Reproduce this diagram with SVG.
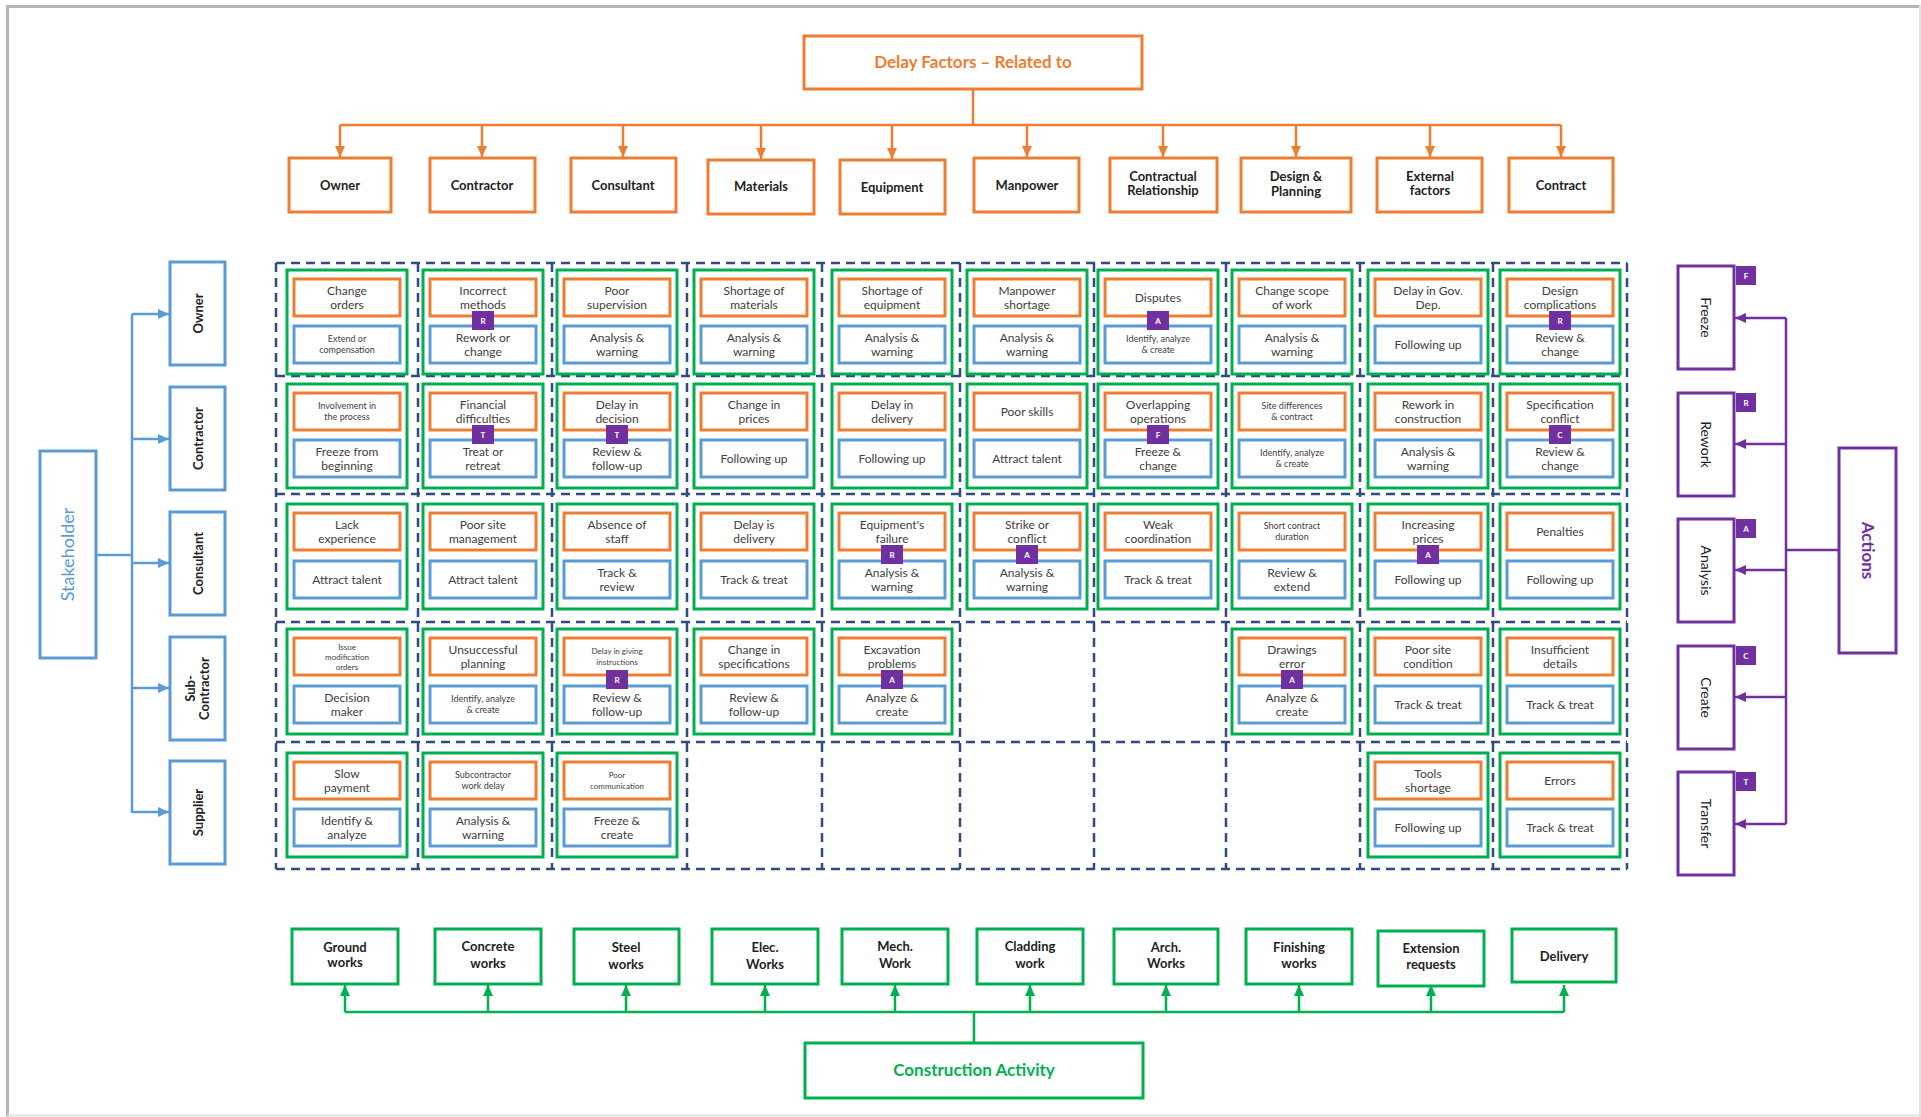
<svg xmlns="http://www.w3.org/2000/svg" width="1921" height="1117" viewBox="0 0 1921 1117">
<style>
text{font-family:Lato,"Liberation Sans",Arial,sans-serif;text-anchor:middle}
.t{font-size:12px;fill:#404040}
.s{font-size:9px}
.xs{font-size:8px}
.g{fill:#fff;stroke:#00B050;stroke-width:3}
.o{fill:#fff;stroke:#ED7D31;stroke-width:3}
.b{fill:#fff;stroke:#5B9BD5;stroke-width:3}
.p{fill:#7030A0}
.pl{font-size:8px;fill:#fff;font-weight:bold}
.grid{fill:none;stroke:#2F4B80;stroke-width:2.5;stroke-dasharray:9 6}
.ob{fill:#fff;stroke:#ED7D31;stroke-width:3}
.gb{fill:#fff;stroke:#00B050;stroke-width:3}
.bb{fill:#fff;stroke:#5B9BD5;stroke-width:3}
.pb{fill:#fff;stroke:#7030A0;stroke-width:3}
.lbl{font-size:13px;font-weight:bold;fill:#222}
.act{font-size:14px;fill:#222}
.co{fill:none;stroke:#ED7D31;stroke-width:2.5}
.cg{fill:none;stroke:#00B050;stroke-width:2.5}
.cb{fill:none;stroke:#5B9BD5;stroke-width:2.5}
.cp{fill:none;stroke:#7030A0;stroke-width:2.5}
</style>
<defs>
<marker id="ao" markerUnits="userSpaceOnUse" markerWidth="12" markerHeight="12" refX="11" refY="6" orient="auto"><path d="M0,1 L11,6 L0,11 z" fill="#ED7D31"/></marker>
<marker id="ag" markerUnits="userSpaceOnUse" markerWidth="12" markerHeight="12" refX="11" refY="6" orient="auto"><path d="M0,1 L11,6 L0,11 z" fill="#00B050"/></marker>
<marker id="ab" markerUnits="userSpaceOnUse" markerWidth="12" markerHeight="12" refX="11" refY="6" orient="auto"><path d="M0,1 L11,6 L0,11 z" fill="#5B9BD5"/></marker>
<marker id="ap" markerUnits="userSpaceOnUse" markerWidth="12" markerHeight="12" refX="11" refY="6" orient="auto"><path d="M0,1 L11,6 L0,11 z" fill="#7030A0"/></marker>
</defs>
<rect width="1921" height="1117" fill="#fff"/>
<path d="M7,6.5 H1921 M7.5,5 V1117" stroke="#b5b5b5" stroke-width="3" fill="none"/>
<path d="M7,1115.5 H1921 M1920,5 V1117" stroke="#e2e2e2" stroke-width="2" fill="none"/>

<!-- grid -->
<g id="grid" class="grid">
<path d="M276,263 H1627 M276,376 H1627 M276,494 H1627 M276,622 H1627 M276,742 H1627 M276,869 H1627"/>
<path d="M276,263 V869 M418,263 V869 M552,263 V869 M687,263 V869 M822,263 V869 M960,263 V869 M1094,263 V869 M1226,263 V869 M1360,263 V869 M1493,263 V869 M1627,263 V869"/>
</g>

<!-- connectors -->
<g id="connectors">
<path class="co" d="M973,89 V125 M340,125 H1561"/>
<path class="co" marker-end="url(#ao)" d="M340,125 V157"/>
<path class="co" marker-end="url(#ao)" d="M482,125 V157"/>
<path class="co" marker-end="url(#ao)" d="M623,125 V157"/>
<path class="co" marker-end="url(#ao)" d="M761,125 V159"/>
<path class="co" marker-end="url(#ao)" d="M892,125 V159"/>
<path class="co" marker-end="url(#ao)" d="M1027,125 V157"/>
<path class="co" marker-end="url(#ao)" d="M1163,125 V157"/>
<path class="co" marker-end="url(#ao)" d="M1296,125 V157"/>
<path class="co" marker-end="url(#ao)" d="M1430,125 V157"/>
<path class="co" marker-end="url(#ao)" d="M1561,125 V157"/>

<path class="cb" d="M96,555 H132 M132,314 V813"/>
<path class="cb" marker-end="url(#ab)" d="M132,314 H169"/>
<path class="cb" marker-end="url(#ab)" d="M132,439 H169"/>
<path class="cb" marker-end="url(#ab)" d="M132,563 H169"/>
<path class="cb" marker-end="url(#ab)" d="M132,688 H169"/>
<path class="cb" marker-end="url(#ab)" d="M132,812 H169"/>

<path class="cp" d="M1839,550 H1786 M1786,318 V824"/>
<path class="cp" marker-end="url(#ap)" d="M1786,318 H1735"/>
<path class="cp" marker-end="url(#ap)" d="M1786,444 H1735"/>
<path class="cp" marker-end="url(#ap)" d="M1786,570 H1735"/>
<path class="cp" marker-end="url(#ap)" d="M1786,697 H1735"/>
<path class="cp" marker-end="url(#ap)" d="M1786,824 H1735"/>

<path class="cg" d="M974,1043 V1012 M345,1012 H1564"/>
<path class="cg" marker-end="url(#ag)" d="M345,1012 V985"/>
<path class="cg" marker-end="url(#ag)" d="M488,1012 V985"/>
<path class="cg" marker-end="url(#ag)" d="M626,1012 V985"/>
<path class="cg" marker-end="url(#ag)" d="M765,1012 V985"/>
<path class="cg" marker-end="url(#ag)" d="M895,1012 V985"/>
<path class="cg" marker-end="url(#ag)" d="M1030,1012 V985"/>
<path class="cg" marker-end="url(#ag)" d="M1166,1012 V985"/>
<path class="cg" marker-end="url(#ag)" d="M1299,1012 V985"/>
<path class="cg" marker-end="url(#ag)" d="M1431,1012 V985"/>
<path class="cg" marker-end="url(#ag)" d="M1564,1012 V985"/>
</g>

<!-- top -->
<g id="delay-factors"><rect class="ob" x="804" y="36" width="338" height="53"/><text x="973" y="68" font-size="17" font-weight="bold" fill="#ED7D31">Delay Factors – Related to</text></g>
<g id="cat-owner"><rect class="ob" x="289" y="158" width="102" height="54"/><text class="lbl" x="340" y="190" font-size="15">Owner</text></g>
<g id="cat-contractor"><rect class="ob" x="430" y="158" width="105" height="54"/><text class="lbl" x="482" y="189.5">Contractor</text></g>
<g id="cat-consultant"><rect class="ob" x="571" y="158" width="105" height="54"/><text class="lbl" x="623" y="189.5">Consultant</text></g>
<g id="cat-materials"><rect class="ob" x="708" y="160" width="106" height="54"/><text class="lbl" x="761" y="191">Materials</text></g>
<g id="cat-equipment"><rect class="ob" x="840" y="160" width="105" height="54"/><text class="lbl" x="892" y="192">Equipment</text></g>
<g id="cat-manpower"><rect class="ob" x="974" y="158" width="105" height="54"/><text class="lbl" x="1027" y="190">Manpower</text></g>
<g id="cat-contractual"><rect class="ob" x="1110" y="158" width="107" height="54"/><text class="lbl" y="181" font-size="11"><tspan x="1163">Contractual</tspan><tspan x="1163" dy="14">Relationship</tspan></text></g>
<g id="cat-design"><rect class="ob" x="1241" y="158" width="110" height="54"/><text class="lbl" y="181"><tspan x="1296">Design &amp;</tspan><tspan x="1296" dy="15">Planning</tspan></text></g>
<g id="cat-external"><rect class="ob" x="1377" y="158" width="105" height="54"/><text class="lbl" y="181" font-size="11"><tspan x="1430">External</tspan><tspan x="1430" dy="14">factors</tspan></text></g>
<g id="cat-contract"><rect class="ob" x="1509" y="158" width="104" height="54"/><text class="lbl" x="1561" y="189.5">Contract</text></g>

<!-- left stakeholders -->
<g id="stakeholder"><rect class="bb" x="40" y="451" width="56" height="207"/><text transform="translate(68,554.5) rotate(-90)" y="6" font-size="18" fill="#5B9BD5">Stakeholder</text></g>
<g id="sh-owner"><rect class="bb" x="170" y="262" width="55" height="103"/><text class="lbl" transform="translate(197.5,313.5) rotate(-90)" y="5">Owner</text></g>
<g id="sh-contractor"><rect class="bb" x="170" y="387" width="55" height="103"/><text class="lbl" transform="translate(197.5,438.5) rotate(-90)" y="5">Contractor</text></g>
<g id="sh-consultant"><rect class="bb" x="170" y="512" width="55" height="103"/><text class="lbl" transform="translate(197.5,563.5) rotate(-90)" y="5">Consultant</text></g>
<g id="sh-subcontractor"><rect class="bb" x="170" y="637" width="55" height="103"/><text class="lbl" transform="translate(197.5,688.5) rotate(-90)" font-size="12" y="-3"><tspan x="0">Sub-</tspan><tspan x="0" dy="14">Contractor</tspan></text></g>
<g id="sh-supplier"><rect class="bb" x="170" y="761" width="55" height="103"/><text class="lbl" transform="translate(197.5,812.5) rotate(-90)" y="5">Supplier</text></g>

<!-- right actions -->
<g id="actions"><rect class="pb" x="1839" y="448" width="57" height="205"/><text transform="translate(1867.5,550.5) rotate(90)" y="6" font-size="17" font-weight="bold" fill="#7030A0">Actions</text></g>
<g id="act-freeze"><rect class="pb" x="1678" y="266" width="56" height="103"/><rect class="p" x="1736" y="266" width="20" height="19"/><text class="pl" x="1746" y="278.5">F</text><text class="act" transform="translate(1706,317.5) rotate(90)" y="5">Freeze</text></g>
<g id="act-rework"><rect class="pb" x="1678" y="393" width="56" height="103"/><rect class="p" x="1736" y="393" width="20" height="19"/><text class="pl" x="1746" y="405.5">R</text><text class="act" transform="translate(1706,444.5) rotate(90)" y="5">Rework</text></g>
<g id="act-analysis"><rect class="pb" x="1678" y="519" width="56" height="103"/><rect class="p" x="1736" y="519" width="20" height="19"/><text class="pl" x="1746" y="531.5">A</text><text class="act" transform="translate(1706,570.5) rotate(90)" y="5">Analysis</text></g>
<g id="act-create"><rect class="pb" x="1678" y="646" width="56" height="103"/><rect class="p" x="1736" y="646" width="20" height="19"/><text class="pl" x="1746" y="658.5">C</text><text class="act" transform="translate(1706,697.5) rotate(90)" y="5">Create</text></g>
<g id="act-transfer"><rect class="pb" x="1678" y="772" width="56" height="103"/><rect class="p" x="1736" y="772" width="20" height="19"/><text class="pl" x="1746" y="784.5">T</text><text class="act" transform="translate(1706,823.5) rotate(90)" y="5">Transfer</text></g>

<!-- bottom activities -->
<g id="construction-activity"><rect class="gb" x="805" y="1043" width="338" height="55"/><text x="974" y="1076" font-size="17" font-weight="bold" fill="#00B050">Construction Activity</text></g>
<g id="ca-ground"><rect class="gb" x="292" y="929" width="106" height="55"/><text class="lbl" y="952" font-size="12"><tspan x="345">Ground</tspan><tspan x="345" dy="15">works</tspan></text></g>
<g id="ca-concrete"><rect class="gb" x="435" y="929" width="106" height="55"/><text class="lbl" y="951" font-size="12"><tspan x="488">Concrete</tspan><tspan x="488" dy="17">works</tspan></text></g>
<g id="ca-steel"><rect class="gb" x="574" y="929" width="105" height="55"/><text class="lbl" y="952" font-size="14"><tspan x="626">Steel</tspan><tspan x="626" dy="17">works</tspan></text></g>
<g id="ca-elec"><rect class="gb" x="712" y="929" width="106" height="55"/><text class="lbl" y="952" font-size="14"><tspan x="765">Elec.</tspan><tspan x="765" dy="17">Works</tspan></text></g>
<g id="ca-mech"><rect class="gb" x="842" y="929" width="106" height="55"/><text class="lbl" y="951" font-size="12"><tspan x="895">Mech.</tspan><tspan x="895" dy="17">Work</tspan></text></g>
<g id="ca-cladding"><rect class="gb" x="977" y="929" width="106" height="55"/><text class="lbl" y="951" font-size="12"><tspan x="1030">Cladding</tspan><tspan x="1030" dy="17">work</tspan></text></g>
<g id="ca-arch"><rect class="gb" x="1114" y="929" width="104" height="55"/><text class="lbl" y="952" font-size="12"><tspan x="1166">Arch.</tspan><tspan x="1166" dy="16">Works</tspan></text></g>
<g id="ca-finishing"><rect class="gb" x="1246" y="929" width="106" height="55"/><text class="lbl" y="952" font-size="12"><tspan x="1299">Finishing</tspan><tspan x="1299" dy="16">works</tspan></text></g>
<g id="ca-extension"><rect class="gb" x="1378" y="931" width="106" height="55"/><text class="lbl" y="953" font-size="12"><tspan x="1431">Extension</tspan><tspan x="1431" dy="16">requests</tspan></text></g>
<g id="ca-delivery"><rect class="gb" x="1512" y="929" width="104" height="53"/><text class="lbl" x="1564" y="961" font-size="12">Delivery</text></g>

<!-- cells row 1 -->
<g id="r1c1" transform="translate(287,270)"><rect class="g" width="120" height="104"/><rect class="o" x="7" y="9" width="106" height="37"/><rect class="b" x="7" y="56" width="106" height="37"/><text class="t" y="24.8"><tspan x="60">Change</tspan><tspan x="60" dy="14">orders</tspan></text><text class="t s" y="72.2"><tspan x="60">Extend or</tspan><tspan x="60" dy="11">compensation</tspan></text></g>
<g id="r1c2" transform="translate(423,270)"><rect class="g" width="120" height="104"/><rect class="o" x="7" y="9" width="106" height="37"/><rect class="b" x="7" y="56" width="106" height="37"/><text class="t" y="24.8"><tspan x="60">Incorrect</tspan><tspan x="60" dy="14">methods</tspan></text><text class="t" y="71.8"><tspan x="60">Rework or</tspan><tspan x="60" dy="14">change</tspan></text><rect class="p" x="49" y="41" width="22" height="19"/><text class="pl" x="60" y="53.5">R</text></g>
<g id="r1c3" transform="translate(557,270)"><rect class="g" width="120" height="104"/><rect class="o" x="7" y="9" width="106" height="37"/><rect class="b" x="7" y="56" width="106" height="37"/><text class="t" y="24.8"><tspan x="60">Poor</tspan><tspan x="60" dy="14">supervision</tspan></text><text class="t" y="71.8"><tspan x="60">Analysis &amp;</tspan><tspan x="60" dy="14">warning</tspan></text></g>
<g id="r1c4" transform="translate(694,270)"><rect class="g" width="120" height="104"/><rect class="o" x="7" y="9" width="106" height="37"/><rect class="b" x="7" y="56" width="106" height="37"/><text class="t" y="24.8"><tspan x="60">Shortage of</tspan><tspan x="60" dy="14">materials</tspan></text><text class="t" y="71.8"><tspan x="60">Analysis &amp;</tspan><tspan x="60" dy="14">warning</tspan></text></g>
<g id="r1c5" transform="translate(832,270)"><rect class="g" width="120" height="104"/><rect class="o" x="7" y="9" width="106" height="37"/><rect class="b" x="7" y="56" width="106" height="37"/><text class="t" y="24.8"><tspan x="60">Shortage of</tspan><tspan x="60" dy="14">equipment</tspan></text><text class="t" y="71.8"><tspan x="60">Analysis &amp;</tspan><tspan x="60" dy="14">warning</tspan></text></g>
<g id="r1c6" transform="translate(967,270)"><rect class="g" width="120" height="104"/><rect class="o" x="7" y="9" width="106" height="37"/><rect class="b" x="7" y="56" width="106" height="37"/><text class="t" y="24.8"><tspan x="60">Manpower</tspan><tspan x="60" dy="14">shortage</tspan></text><text class="t" y="71.8"><tspan x="60">Analysis &amp;</tspan><tspan x="60" dy="14">warning</tspan></text></g>
<g id="r1c7" transform="translate(1098,270)"><rect class="g" width="120" height="104"/><rect class="o" x="7" y="9" width="106" height="37"/><rect class="b" x="7" y="56" width="106" height="37"/><text class="t" x="60" y="31.8">Disputes</text><text class="t s" y="72.2"><tspan x="60">Identify, analyze</tspan><tspan x="60" dy="11">&amp; create</tspan></text><rect class="p" x="49" y="41" width="22" height="19"/><text class="pl" x="60" y="53.5">A</text></g>
<g id="r1c8" transform="translate(1232,270)"><rect class="g" width="120" height="104"/><rect class="o" x="7" y="9" width="106" height="37"/><rect class="b" x="7" y="56" width="106" height="37"/><text class="t" y="24.8"><tspan x="60">Change scope</tspan><tspan x="60" dy="14">of work</tspan></text><text class="t" y="71.8"><tspan x="60">Analysis &amp;</tspan><tspan x="60" dy="14">warning</tspan></text></g>
<g id="r1c9" transform="translate(1368,270)"><rect class="g" width="120" height="104"/><rect class="o" x="7" y="9" width="106" height="37"/><rect class="b" x="7" y="56" width="106" height="37"/><text class="t" y="24.8"><tspan x="60">Delay in Gov.</tspan><tspan x="60" dy="14">Dep.</tspan></text><text class="t" x="60" y="78.8">Following up</text></g>
<g id="r1c10" transform="translate(1500,270)"><rect class="g" width="120" height="104"/><rect class="o" x="7" y="9" width="106" height="37"/><rect class="b" x="7" y="56" width="106" height="37"/><text class="t" y="24.8"><tspan x="60">Design</tspan><tspan x="60" dy="14">complications</tspan></text><text class="t" y="71.8"><tspan x="60">Review &amp;</tspan><tspan x="60" dy="14">change</tspan></text><rect class="p" x="49" y="41" width="22" height="19"/><text class="pl" x="60" y="53.5">R</text></g>

<!-- row 2 -->
<g id="r2c1" transform="translate(287,384)"><rect class="g" width="120" height="104"/><rect class="o" x="7" y="9" width="106" height="37"/><rect class="b" x="7" y="56" width="106" height="37"/><text class="t s" y="25.2"><tspan x="60">Involvement in</tspan><tspan x="60" dy="11">the process</tspan></text><text class="t" y="71.8"><tspan x="60">Freeze from</tspan><tspan x="60" dy="14">beginning</tspan></text></g>
<g id="r2c2" transform="translate(423,384)"><rect class="g" width="120" height="104"/><rect class="o" x="7" y="9" width="106" height="37"/><rect class="b" x="7" y="56" width="106" height="37"/><text class="t" y="24.8"><tspan x="60">Financial</tspan><tspan x="60" dy="14">difficulties</tspan></text><text class="t" y="71.8"><tspan x="60">Treat or</tspan><tspan x="60" dy="14">retreat</tspan></text><rect class="p" x="49" y="41" width="22" height="19"/><text class="pl" x="60" y="53.5">T</text></g>
<g id="r2c3" transform="translate(557,384)"><rect class="g" width="120" height="104"/><rect class="o" x="7" y="9" width="106" height="37"/><rect class="b" x="7" y="56" width="106" height="37"/><text class="t" y="24.8"><tspan x="60">Delay in</tspan><tspan x="60" dy="14">decision</tspan></text><text class="t" y="71.8"><tspan x="60">Review &amp;</tspan><tspan x="60" dy="14">follow-up</tspan></text><rect class="p" x="49" y="41" width="22" height="19"/><text class="pl" x="60" y="53.5">T</text></g>
<g id="r2c4" transform="translate(694,384)"><rect class="g" width="120" height="104"/><rect class="o" x="7" y="9" width="106" height="37"/><rect class="b" x="7" y="56" width="106" height="37"/><text class="t" y="24.8"><tspan x="60">Change in</tspan><tspan x="60" dy="14">prices</tspan></text><text class="t" x="60" y="78.8">Following up</text></g>
<g id="r2c5" transform="translate(832,384)"><rect class="g" width="120" height="104"/><rect class="o" x="7" y="9" width="106" height="37"/><rect class="b" x="7" y="56" width="106" height="37"/><text class="t" y="24.8"><tspan x="60">Delay in</tspan><tspan x="60" dy="14">delivery</tspan></text><text class="t" x="60" y="78.8">Following up</text></g>
<g id="r2c6" transform="translate(967,384)"><rect class="g" width="120" height="104"/><rect class="o" x="7" y="9" width="106" height="37"/><rect class="b" x="7" y="56" width="106" height="37"/><text class="t" x="60" y="31.8">Poor skills</text><text class="t" x="60" y="78.8">Attract talent</text></g>
<g id="r2c7" transform="translate(1098,384)"><rect class="g" width="120" height="104"/><rect class="o" x="7" y="9" width="106" height="37"/><rect class="b" x="7" y="56" width="106" height="37"/><text class="t" y="24.8"><tspan x="60">Overlapping</tspan><tspan x="60" dy="14">operations</tspan></text><text class="t" y="71.8"><tspan x="60">Freeze &amp;</tspan><tspan x="60" dy="14">change</tspan></text><rect class="p" x="49" y="41" width="22" height="19"/><text class="pl" x="60" y="53.5">F</text></g>
<g id="r2c8" transform="translate(1232,384)"><rect class="g" width="120" height="104"/><rect class="o" x="7" y="9" width="106" height="37"/><rect class="b" x="7" y="56" width="106" height="37"/><text class="t s" y="25.2"><tspan x="60">Site differences</tspan><tspan x="60" dy="11">&amp; contract</tspan></text><text class="t s" y="72.2"><tspan x="60">Identify, analyze</tspan><tspan x="60" dy="11">&amp; create</tspan></text></g>
<g id="r2c9" transform="translate(1368,384)"><rect class="g" width="120" height="104"/><rect class="o" x="7" y="9" width="106" height="37"/><rect class="b" x="7" y="56" width="106" height="37"/><text class="t" y="24.8"><tspan x="60">Rework in</tspan><tspan x="60" dy="14">construction</tspan></text><text class="t" y="71.8"><tspan x="60">Analysis &amp;</tspan><tspan x="60" dy="14">warning</tspan></text></g>
<g id="r2c10" transform="translate(1500,384)"><rect class="g" width="120" height="104"/><rect class="o" x="7" y="9" width="106" height="37"/><rect class="b" x="7" y="56" width="106" height="37"/><text class="t" y="24.8"><tspan x="60">Specification</tspan><tspan x="60" dy="14">conflict</tspan></text><text class="t" y="71.8"><tspan x="60">Review &amp;</tspan><tspan x="60" dy="14">change</tspan></text><rect class="p" x="49" y="41" width="22" height="19"/><text class="pl" x="60" y="53.5">C</text></g>

<!-- row 3 -->
<g id="r3c1" transform="translate(287,504)"><rect class="g" width="120" height="105"/><rect class="o" x="7" y="9" width="106" height="37"/><rect class="b" x="7" y="57" width="106" height="37"/><text class="t" y="24.8"><tspan x="60">Lack</tspan><tspan x="60" dy="14">experience</tspan></text><text class="t" x="60" y="79.8">Attract talent</text></g>
<g id="r3c2" transform="translate(423,504)"><rect class="g" width="120" height="105"/><rect class="o" x="7" y="9" width="106" height="37"/><rect class="b" x="7" y="57" width="106" height="37"/><text class="t" y="24.8"><tspan x="60">Poor site</tspan><tspan x="60" dy="14">management</tspan></text><text class="t" x="60" y="79.8">Attract talent</text></g>
<g id="r3c3" transform="translate(557,504)"><rect class="g" width="120" height="105"/><rect class="o" x="7" y="9" width="106" height="37"/><rect class="b" x="7" y="57" width="106" height="37"/><text class="t" y="24.8"><tspan x="60">Absence of</tspan><tspan x="60" dy="14">staff</tspan></text><text class="t" y="72.8"><tspan x="60">Track &amp;</tspan><tspan x="60" dy="14">review</tspan></text></g>
<g id="r3c4" transform="translate(694,504)"><rect class="g" width="120" height="105"/><rect class="o" x="7" y="9" width="106" height="37"/><rect class="b" x="7" y="57" width="106" height="37"/><text class="t" y="24.8"><tspan x="60">Delay is</tspan><tspan x="60" dy="14">delivery</tspan></text><text class="t" x="60" y="79.8">Track &amp; treat</text></g>
<g id="r3c5" transform="translate(832,504)"><rect class="g" width="120" height="105"/><rect class="o" x="7" y="9" width="106" height="37"/><rect class="b" x="7" y="57" width="106" height="37"/><text class="t" y="24.8"><tspan x="60">Equipment's</tspan><tspan x="60" dy="14">failure</tspan></text><text class="t" y="72.8"><tspan x="60">Analysis &amp;</tspan><tspan x="60" dy="14">warning</tspan></text><rect class="p" x="49" y="41" width="22" height="19"/><text class="pl" x="60" y="53.5">R</text></g>
<g id="r3c6" transform="translate(967,504)"><rect class="g" width="120" height="105"/><rect class="o" x="7" y="9" width="106" height="37"/><rect class="b" x="7" y="57" width="106" height="37"/><text class="t" y="24.8"><tspan x="60">Strike or</tspan><tspan x="60" dy="14">conflict</tspan></text><text class="t" y="72.8"><tspan x="60">Analysis &amp;</tspan><tspan x="60" dy="14">warning</tspan></text><rect class="p" x="49" y="41" width="22" height="19"/><text class="pl" x="60" y="53.5">A</text></g>
<g id="r3c7" transform="translate(1098,504)"><rect class="g" width="120" height="105"/><rect class="o" x="7" y="9" width="106" height="37"/><rect class="b" x="7" y="57" width="106" height="37"/><text class="t" y="24.8"><tspan x="60">Weak</tspan><tspan x="60" dy="14">coordination</tspan></text><text class="t" x="60" y="79.8">Track &amp; treat</text></g>
<g id="r3c8" transform="translate(1232,504)"><rect class="g" width="120" height="105"/><rect class="o" x="7" y="9" width="106" height="37"/><rect class="b" x="7" y="57" width="106" height="37"/><text class="t s" y="25.2"><tspan x="60">Short contract</tspan><tspan x="60" dy="11">duration</tspan></text><text class="t" y="72.8"><tspan x="60">Review &amp;</tspan><tspan x="60" dy="14">extend</tspan></text></g>
<g id="r3c9" transform="translate(1368,504)"><rect class="g" width="120" height="105"/><rect class="o" x="7" y="9" width="106" height="37"/><rect class="b" x="7" y="57" width="106" height="37"/><text class="t" y="24.8"><tspan x="60">Increasing</tspan><tspan x="60" dy="14">prices</tspan></text><text class="t" x="60" y="79.8">Following up</text><rect class="p" x="49" y="41" width="22" height="19"/><text class="pl" x="60" y="53.5">A</text></g>
<g id="r3c10" transform="translate(1500,504)"><rect class="g" width="120" height="105"/><rect class="o" x="7" y="9" width="106" height="37"/><rect class="b" x="7" y="57" width="106" height="37"/><text class="t" x="60" y="31.8">Penalties</text><text class="t" x="60" y="79.8">Following up</text></g>

<!-- row 4 -->
<g id="r4c1" transform="translate(287,629)"><rect class="g" width="120" height="105"/><rect class="o" x="7" y="9" width="106" height="37"/><rect class="b" x="7" y="57" width="106" height="37"/><text class="t xs" y="20.5"><tspan x="60">Issue</tspan><tspan x="60" dy="10">modification</tspan><tspan x="60" dy="10">orders</tspan></text><text class="t" y="72.8"><tspan x="60">Decision</tspan><tspan x="60" dy="14">maker</tspan></text></g>
<g id="r4c2" transform="translate(423,629)"><rect class="g" width="120" height="105"/><rect class="o" x="7" y="9" width="106" height="37"/><rect class="b" x="7" y="57" width="106" height="37"/><text class="t" y="24.8"><tspan x="60">Unsuccessful</tspan><tspan x="60" dy="14">planning</tspan></text><text class="t s" y="73.2"><tspan x="60">Identify, analyze</tspan><tspan x="60" dy="11">&amp; create</tspan></text></g>
<g id="r4c3" transform="translate(557,629)"><rect class="g" width="120" height="105"/><rect class="o" x="7" y="9" width="106" height="37"/><rect class="b" x="7" y="57" width="106" height="37"/><text class="t xs" y="25.2"><tspan x="60">Delay in giving</tspan><tspan x="60" dy="11">instructions</tspan></text><text class="t" y="72.8"><tspan x="60">Review &amp;</tspan><tspan x="60" dy="14">follow-up</tspan></text><rect class="p" x="49" y="41" width="22" height="19"/><text class="pl" x="60" y="53.5">R</text></g>
<g id="r4c4" transform="translate(694,629)"><rect class="g" width="120" height="105"/><rect class="o" x="7" y="9" width="106" height="37"/><rect class="b" x="7" y="57" width="106" height="37"/><text class="t" y="24.8"><tspan x="60">Change in</tspan><tspan x="60" dy="14">specifications</tspan></text><text class="t" y="72.8"><tspan x="60">Review &amp;</tspan><tspan x="60" dy="14">follow-up</tspan></text></g>
<g id="r4c5" transform="translate(832,629)"><rect class="g" width="120" height="105"/><rect class="o" x="7" y="9" width="106" height="37"/><rect class="b" x="7" y="57" width="106" height="37"/><text class="t" y="24.8"><tspan x="60">Excavation</tspan><tspan x="60" dy="14">problems</tspan></text><text class="t" y="72.8"><tspan x="60">Analyze &amp;</tspan><tspan x="60" dy="14">create</tspan></text><rect class="p" x="49" y="41" width="22" height="19"/><text class="pl" x="60" y="53.5">A</text></g>
<g id="r4c8" transform="translate(1232,629)"><rect class="g" width="120" height="105"/><rect class="o" x="7" y="9" width="106" height="37"/><rect class="b" x="7" y="57" width="106" height="37"/><text class="t" y="24.8"><tspan x="60">Drawings</tspan><tspan x="60" dy="14">error</tspan></text><text class="t" y="72.8"><tspan x="60">Analyze &amp;</tspan><tspan x="60" dy="14">create</tspan></text><rect class="p" x="49" y="41" width="22" height="19"/><text class="pl" x="60" y="53.5">A</text></g>
<g id="r4c9" transform="translate(1368,629)"><rect class="g" width="120" height="105"/><rect class="o" x="7" y="9" width="106" height="37"/><rect class="b" x="7" y="57" width="106" height="37"/><text class="t" y="24.8"><tspan x="60">Poor site</tspan><tspan x="60" dy="14">condition</tspan></text><text class="t" x="60" y="79.8">Track &amp; treat</text></g>
<g id="r4c10" transform="translate(1500,629)"><rect class="g" width="120" height="105"/><rect class="o" x="7" y="9" width="106" height="37"/><rect class="b" x="7" y="57" width="106" height="37"/><text class="t" y="24.8"><tspan x="60">Insufficient</tspan><tspan x="60" dy="14">details</tspan></text><text class="t" x="60" y="79.8">Track &amp; treat</text></g>

<!-- row 5 -->
<g id="r5c1" transform="translate(287,753)"><rect class="g" width="120" height="104"/><rect class="o" x="7" y="9" width="106" height="37"/><rect class="b" x="7" y="56" width="106" height="37"/><text class="t" y="24.8"><tspan x="60">Slow</tspan><tspan x="60" dy="14">payment</tspan></text><text class="t" y="71.8"><tspan x="60">Identify &amp;</tspan><tspan x="60" dy="14">analyze</tspan></text></g>
<g id="r5c2" transform="translate(423,753)"><rect class="g" width="120" height="104"/><rect class="o" x="7" y="9" width="106" height="37"/><rect class="b" x="7" y="56" width="106" height="37"/><text class="t s" y="25.2"><tspan x="60">Subcontractor</tspan><tspan x="60" dy="11">work delay</tspan></text><text class="t" y="71.8"><tspan x="60">Analysis &amp;</tspan><tspan x="60" dy="14">warning</tspan></text></g>
<g id="r5c3" transform="translate(557,753)"><rect class="g" width="120" height="104"/><rect class="o" x="7" y="9" width="106" height="37"/><rect class="b" x="7" y="56" width="106" height="37"/><text class="t xs" y="25.2"><tspan x="60">Poor</tspan><tspan x="60" dy="11">communication</tspan></text><text class="t" y="71.8"><tspan x="60">Freeze &amp;</tspan><tspan x="60" dy="14">create</tspan></text></g>
<g id="r5c9" transform="translate(1368,753)"><rect class="g" width="120" height="104"/><rect class="o" x="7" y="9" width="106" height="37"/><rect class="b" x="7" y="56" width="106" height="37"/><text class="t" y="24.8"><tspan x="60">Tools</tspan><tspan x="60" dy="14">shortage</tspan></text><text class="t" x="60" y="78.8">Following up</text></g>
<g id="r5c10" transform="translate(1500,753)"><rect class="g" width="120" height="104"/><rect class="o" x="7" y="9" width="106" height="37"/><rect class="b" x="7" y="56" width="106" height="37"/><text class="t" x="60" y="31.8">Errors</text><text class="t" x="60" y="78.8">Track &amp; treat</text></g>
</svg>
